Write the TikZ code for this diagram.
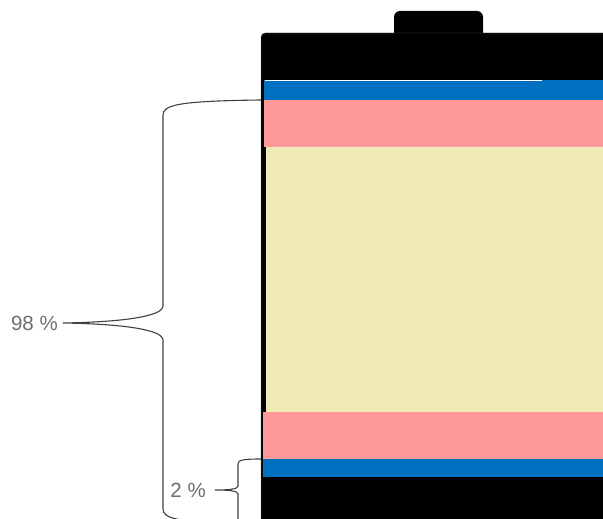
\documentclass[tikz,border=0pt]{standalone}
\usepackage{fontspec}
\setmainfont{Liberation Sans}
\definecolor{cellblue}{RGB}{0,112,192}
\definecolor{cellpink}{RGB}{255,153,153}
\definecolor{cellcream}{RGB}{240,235,182}
\definecolor{labelgray}{RGB}{110,110,110}
\tikzset{
  brace/.style={draw=black!75, line width=1.1pt},
  pct/.style={text=labelgray, font=\fontsize{20.5}{24}\selectfont, inner sep=0pt}
}
\begin{document}
\begin{tikzpicture}[x=1pt, y=-1pt]
  \useasboundingbox (0, 0) rectangle (603, 519);
  \clip (0, 0) rectangle (603, 519);
  % cell body and cap
  \fill [rounded corners=6] (394, 40) -- (394, 11) -- (483, 11) -- (483, 40) -- cycle;
  \draw [fill=black, draw=black!60, rounded corners=4] (261, 540) -- (261, 33) -- (620, 33) -- (620, 540);
  % layers
  \fill [cellblue] (264, 80) rectangle (610, 100);
  \draw [white, line width=1.2pt] (265, 80.5) -- (542, 80.5);
  \fill [cellpink] (264, 100) rectangle (610, 147);
  \fill [cellcream] (266, 147) rectangle (610, 412);
  \fill [cellpink] (263, 412) rectangle (610, 459);
  \fill [cellblue] (263, 459) rectangle (610, 477);
  % labels
  \node [pct, anchor=east] (big) at (58, 323) {98 \%};
  \node [pct, anchor=east] (small) at (206, 490) {2 \%};
  \coordinate (bigtip) at (63, 323);
  \coordinate (smalltip) at (215, 490);
  % braces
  \draw [brace] (261, 100) .. controls (178, 101) and (163, 105) .. (163, 115)
    -- (163, 306) .. controls (163, 316) and (125, 322) .. (bigtip)
    .. controls (125, 324) and (163, 330) .. (163, 340)
    -- (163, 509) .. controls (163, 519) and (178, 523) .. (261, 524);
  \draw [brace] (261, 459) .. controls (243, 459) and (238, 460) .. (238, 464)
    -- (238, 486) .. controls (238, 489) and (230, 490) .. (smalltip)
    .. controls (230, 490) and (238, 491) .. (238, 494)
    -- (238, 525);
\end{tikzpicture}
\end{document}
